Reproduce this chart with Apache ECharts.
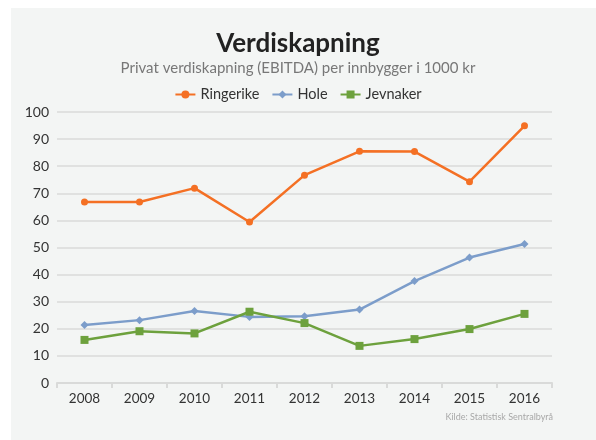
<!DOCTYPE html>
<html><head><meta charset="utf-8">
<script src="https://cdn.jsdelivr.net/npm/echarts@6/dist/echarts.min.js"></script>
<style>html,body{margin:0;padding:0;background:#fff}#c{width:596px;height:440px}</style>
</head><body><div id="c"></div>
<script>
var years = ['2008','2009','2010','2011','2012','2013','2014','2015','2016'];
var ringerike = [66.8, 66.8, 71.9, 59.4, 76.7, 85.5, 85.4, 74.3, 94.9];
var hole = [21.4, 23.2, 26.6, 24.4, 24.6, 27.1, 37.6, 46.3, 51.3];
var jevnaker = [15.9, 19.1, 18.3, 26.3, 22.1, 13.7, 16.2, 19.9, 25.5];
var yTicks = [0,10,20,30,40,50,60,70,80,90,100];
var FONT = 'Lato';
var chart = echarts.init(document.getElementById('c'));
chart.setOption({
  backgroundColor: '#ffffff',
  animation: false,
  textStyle: {fontFamily: FONT},
  graphic: [
    {type:'rect', shape:{x:11,y:8,width:585,height:432}, style:{fill:'#f3f5f4'}, z:-10, silent:true},
    {type:'text', right:43, top:413, style:{text:'Kilde: Statistisk Sentralbyrå', fill:'#a8a8a8', font:'9px '+FONT}}
  ],
  title: {
    text: 'Verdiskapning',
    subtext: 'Privat verdiskapning (EBITDA) per innbygger i 1000 kr',
    left: 'center', top: 26, itemGap: 4,
    textStyle: {fontFamily: FONT, fontSize: 26, fontWeight: 'bold', color: '#222'},
    subtextStyle: {fontFamily: FONT, fontSize: 15, color: '#777'}
  },
  legend: {
    top: 82, left: 'center', itemWidth: 20, itemHeight: 10, itemGap: 12,
    textStyle: {fontFamily: FONT, fontSize: 14.5, color: '#333'},
    data: ['Ringerike','Hole','Jevnaker']
  },
  grid: {left: 57, right: 44, top: 112, bottom: 57, containLabel: false},
  xAxis: {
    type: 'category', data: years, boundaryGap: true,
    axisLine: {lineStyle: {color: '#d9dad9', width: 2}},
    axisTick: {show: true, lineStyle: {color: '#d9dad9', width: 2}, length: 5},
    axisLabel: {fontFamily: FONT, fontSize: 13.5, color: '#333', margin: 9}
  },
  yAxis: {
    type: 'value', min: 0, max: 100, interval: 10,
    axisLine: {show: false}, axisTick: {show: false},
    splitLine: {lineStyle: {color: '#e0e1e0', width: 2}},
    axisLabel: {fontFamily: FONT, fontSize: 14, color: '#333', margin: 8,
      formatter: function(v){ return yTicks.indexOf(v) >= 0 ? String(v) : ''; }}
  },
  series: [
    {name:'Ringerike', type:'line', data: ringerike, color:'#f47024',
     symbol:'circle', symbolSize:7, lineStyle:{width:2.5}},
    {name:'Hole', type:'line', data: hole, color:'#7c9dca',
     symbol:'diamond', symbolSize:8, lineStyle:{width:2.5}},
    {name:'Jevnaker', type:'line', data: jevnaker, color:'#6da13d',
     symbol:'rect', symbolSize:8, lineStyle:{width:2.5}}
  ]
});
</script></body></html>
